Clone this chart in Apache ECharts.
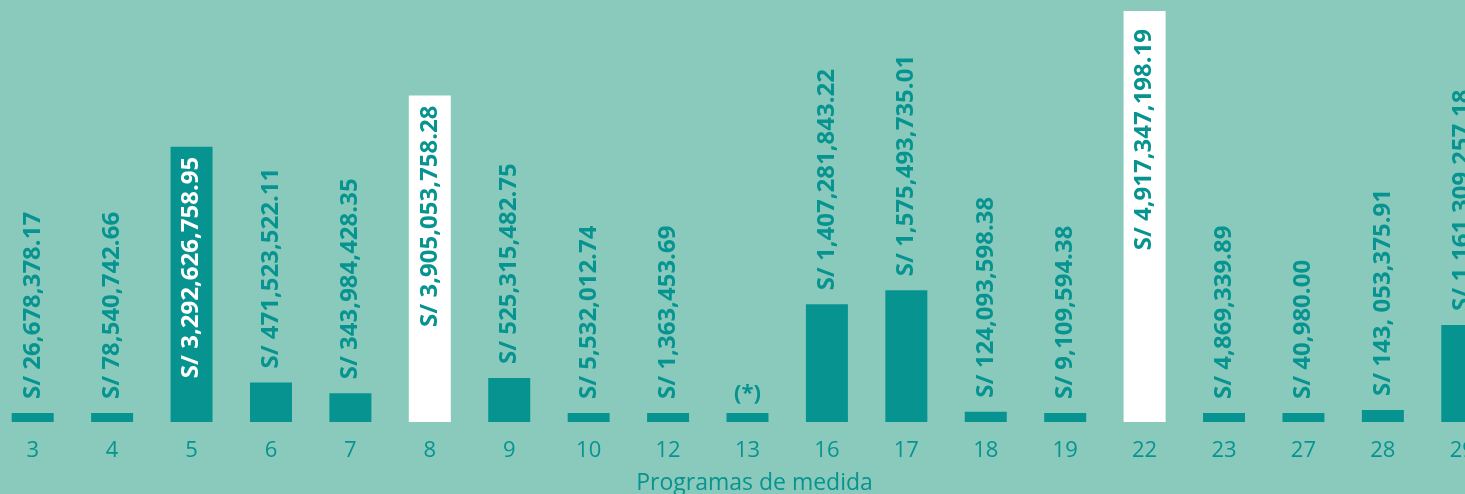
<!DOCTYPE html>
<html>
<head>
<meta charset="utf-8">
<script src="https://cdn.jsdelivr.net/npm/echarts@6/dist/echarts.min.js"></script>
<style>
  html, body { margin: 0; padding: 0; background: #8ACABC; }
  #chart { width: 1465px; height: 494px; }
</style>
</head>
<body>
<div id="chart"></div>
<script>
// Programas de medida (program numbers on the category axis)
const programs = ['3', '4', '5', '6', '7', '8', '9', '10', '12', '13', '16', '17', '18', '19', '22', '23', '27', '28', '29'];

// Amounts in soles for each program; program 13 has no stated amount
const amounts = [
  26678378.17, 78540742.66, 3292626758.95, 471523522.11, 343984428.35,
  3905053758.28, 525315482.75, 5532012.74, 1363453.69, 0,
  1407281843.22, 1575493735.01, 124093598.38, 9109594.38, 4917347198.19,
  4869339.89, 40980.00, 143053375.91, 1161309257.18
];

// Text shown instead of the formatted amount
const labelOverrides = { '13': '(*)', '28': 'S/ 143, 053,375.91' };

// Programs highlighted with a white bar, and the ones with the amount written inside
const whitePrograms = ['8', '22'];
const insidePrograms = ['5', '8', '22'];

const TEAL = '#079491';
const WHITE = '#FFFFFF';

function formatSoles(v) {
  return 'S/ ' + v.toLocaleString('en-US', { minimumFractionDigits: 2, maximumFractionDigits: 2 });
}

const barData = programs.map((p, i) => {
  const white = whitePrograms.includes(p);
  const inside = insidePrograms.includes(p);
  const item = {
    value: amounts[i],
    itemStyle: { color: white ? WHITE : TEAL }
  };
  if (p === '13') {
    item.label = {
      rotate: 0, position: 'top', align: 'center', verticalAlign: 'bottom',
      distance: 8, fontSize: 22, fontWeight: 'bold'
    };
  } else if (inside) {
    item.label = {
      position: 'insideTop', rotate: 90, align: 'right', verticalAlign: 'middle',
      distance: p === '22' ? 18 : 10, color: white ? TEAL : WHITE
    };
  }
  return item;
});

const chart = echarts.init(document.getElementById('chart'), null, { renderer: 'canvas' });

chart.setOption({
  backgroundColor: '#8ACABC',
  animation: false,
  grid: {
    left: -7, width: 1509, top: 4, bottom: 72,
    containLabel: false,
    outerBoundsMode: 'none'
  },
  xAxis: {
    type: 'category',
    data: programs,
    axisLine: { show: false },
    axisTick: { show: false },
    axisLabel: {
      color: TEAL,
      fontFamily: '"Open Sans", sans-serif',
      fontSize: 22,
      margin: 18,
      interval: 0
    },
    name: 'Programas de medida',
    nameLocation: 'middle',
    nameGap: 50,
    nameTextStyle: {
      color: TEAL,
      fontFamily: '"Open Sans", sans-serif',
      fontSize: 23,
      padding: [0, 0, 0, 14]
    }
  },
  yAxis: {
    type: 'value',
    min: 0,
    max: 5000000000,
    show: false,
    splitLine: { show: false }
  },
  series: [{
    type: 'bar',
    data: barData,
    barWidth: 42,
    barMinHeight: 9,
    label: {
      show: true,
      position: 'top',
      rotate: 90,
      align: 'left',
      verticalAlign: 'middle',
      distance: 14,
      color: TEAL,
      fontFamily: '"Open Sans", sans-serif',
      fontWeight: 'bold',
      fontSize: 24,
      formatter: (params) => {
        const p = programs[params.dataIndex];
        return labelOverrides[p] !== undefined ? labelOverrides[p] : formatSoles(params.value);
      }
    }
  }]
});
</script>
</body>
</html>
